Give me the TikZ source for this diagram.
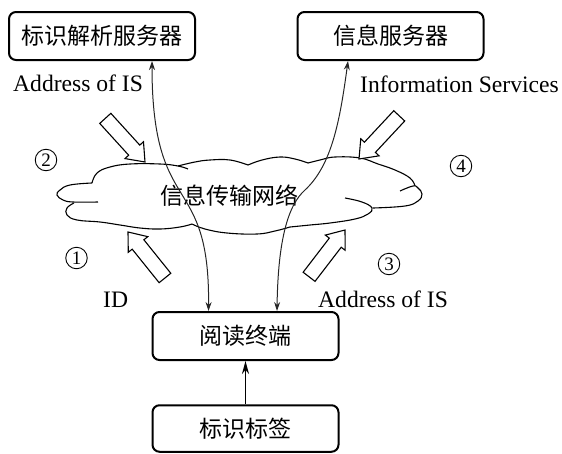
\documentclass[tikz,border=0pt]{standalone}
\usepackage{fontspec}
\setmainfont{Liberation Serif}
\newfontfamily\cjk{Noto Sans CJK SC}
\usetikzlibrary{arrows.meta,calc}
\tikzset{
  box/.style={draw, line width=2pt, rounded corners=7pt, minimum width=186pt,
    minimum height=48pt, inner sep=0pt, font=\cjk\fontsize{23}{25}\selectfont},
  lbl/.style={inner sep=0pt, font=\fontsize{23.6}{26}\selectfont},
  num/.style={circle, draw, line width=0.9pt, minimum size=21.5pt, inner sep=0pt,
    font=\fontsize{19}{19}\selectfont},
  cloudline/.style={line width=1.1pt},
  blk/.style={draw, line width=1.1pt, fill=white, line join=miter},
  link/.style={draw=black!85, line width=1pt,
    {Stealth[length=9pt,width=6pt]}-{Stealth[length=9pt,width=6pt]}},
  blockarrow/.pic={\path[blk] (0,0) -- (-16,12.5) -- (-16,7.5) -- (-59,7.5)
    -- (-59,-7.5) -- (-16,-7.5) -- (-16,-12.5) -- cycle;}
}
\begin{document}
\begin{tikzpicture}[x=1pt,y=-1pt]
\useasboundingbox (0,0) rectangle (562,453);

% boxes
\node[box] (res) at (102,36) {标识解析服务器};
\node[box] (info) at (390.5,36) {信息服务器};
\node[box] (reader) at (245.5,336) {阅读终端};
\node[box, minimum height=46.5pt] (tag) at (245.5,428.5) {标识标签};

% cloud
\draw[cloudline] plot[smooth, tension=0.7] coordinates {(92,183) (97,173) (110,167) (130,164) (160,164) (178,166) (188,169)};
\draw[cloudline] plot[smooth, tension=0.7] coordinates {(178,166) (195,162) (210,160) (230,160) (248,165)};
\draw[cloudline] plot[smooth, tension=0.7] coordinates {(248,165) (262,160) (280,157) (295,159) (308,163)};
\draw[cloudline] plot[smooth, tension=0.7] coordinates {(308,163) (320,160) (335,157) (360,158) (378,164) (395,170) (410,178) (415,186)};
\draw[cloudline] plot[smooth, tension=0.7] coordinates {(400,191) (413,186) (418,188) (422,194) (418,201) (405,206) (373,208)};
\draw[cloudline] plot[smooth, tension=0.7] coordinates {(345,198) (362,202) (372,208) (368,214) (355,219) (330,223) (310,225) (290,227)};
\draw[cloudline] plot[smooth, tension=0.7] coordinates {(290,227) (275,231) (257,234) (227,233) (205,229) (192,224)};
\draw[cloudline] plot[smooth, tension=0.7] coordinates {(74,203) (67,208) (67,215) (77,220) (100,222) (120,225) (140,228) (160,229) (180,227) (192,224)};
\draw[cloudline] plot[smooth, tension=0.7] coordinates {(92,183) (70,185) (60,190) (57,195) (63,200) (73,202) (98,202)};
\node[font=\cjk\fontsize{23}{25}\selectfont, inner sep=0pt] (net) at (229,196) {信息传输网络};

% block arrows
\pic[rotate=-47.7] at (145,162) {blockarrow};
\pic[rotate=-133] at (359,159) {blockarrow};
\pic[rotate=128.8] at (128,232) {blockarrow};
\pic[rotate=52.5] at (345,230) {blockarrow};

% links
\draw[link] ($(res.south)+(50,0)$) .. controls (152,220) and (210,170) .. ($(reader.north)+(-37,0)$);
\draw[link] ($(info.south)+(-42.5,0)$) .. controls (340,120) and (332,165) .. (305,190)
  .. controls (288,205) and (278,240) .. ($(reader.north)+(31.5,0)$);
\draw[line width=1.6pt, -{Stealth[length=13pt,width=7pt]}] (tag) -- (reader);

% labels
\node[lbl, anchor=base west] (l1) at (13,91) {Address of IS};
\node[lbl, anchor=base west] (l2) at (360,92) {Information Services};
\node[lbl, anchor=base west] (l3) at (103,307) {ID};
\node[lbl, anchor=base west] (l4) at (318,307) {Address of IS};

% numbers
\node[num] (n2) at (46,160) {2};
\node[num] (n1) at (76.5,258) {1};
\node[num] (n4) at (461,166) {4};
\node[num] (n3) at (389,264) {3};
\end{tikzpicture}
\end{document}
